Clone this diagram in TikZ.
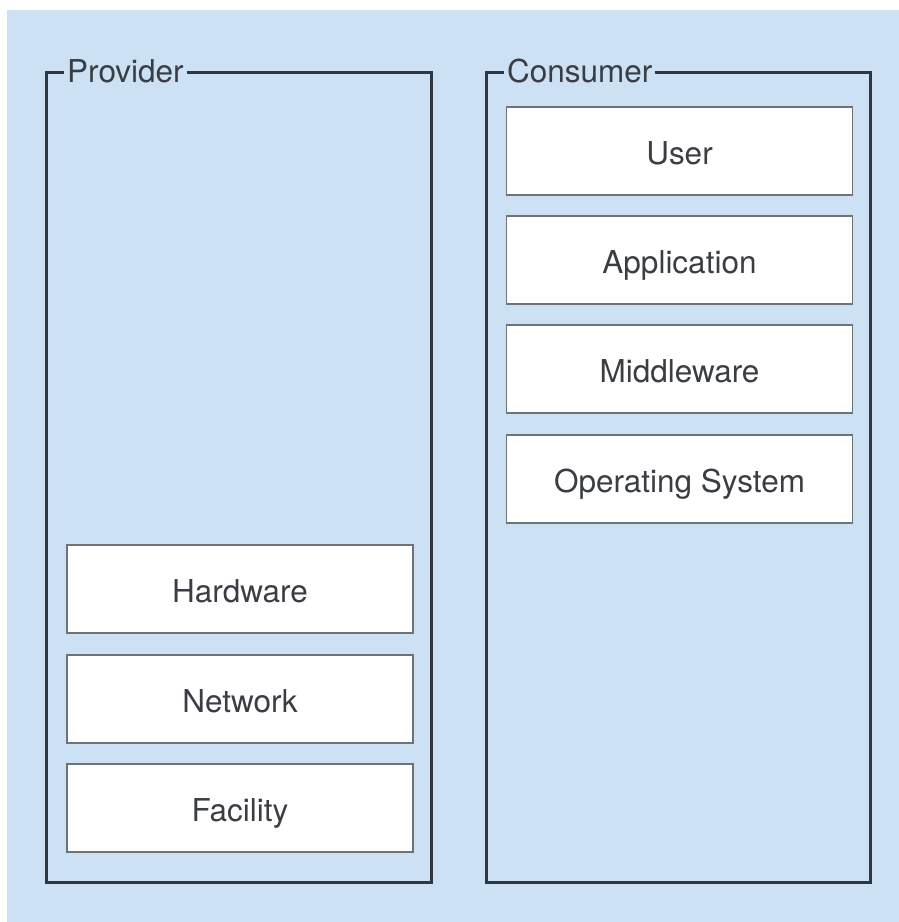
\documentclass[tikz,border=0pt]{standalone}
\usepackage{fontspec}
\setmainfont{TeX Gyre Heros}
\definecolor{bg}{RGB}{204,225,244}
\definecolor{framec}{RGB}{46,54,64}
\definecolor{boxc}{RGB}{110,115,120}
\definecolor{txt}{RGB}{58,62,68}
\begin{document}
\begin{tikzpicture}[x=1pt,y=-1pt,
  frame/.style={draw=framec, line width=3pt, inner sep=0pt, outer sep=0pt},
  layer/.style={draw=boxc, fill=white, line width=1.6pt, minimum width=346pt, minimum height=88pt,
    inner sep=0pt, font=\fontsize{31.5}{37}\selectfont, text=txt,
    text height=26.6pt, text depth=0pt},
  flabel/.style={fill=bg, anchor=west, inner xsep=3pt, inner ysep=3pt,
    font=\fontsize{31.5}{37}\selectfont, text=txt,
    text height=22.6pt, text depth=0pt}]
\useasboundingbox (0,0) rectangle (899,922);
\fill[white] (0,0) rectangle (899,922);
\fill[bg] (7,10) rectangle (899,922);
% frames
\node[frame, minimum width=385pt, minimum height=810pt] (prov) at (238.5,477) {};
\node[frame, minimum width=384pt, minimum height=810pt] (cons) at (678,477) {};
\node[flabel] (provlbl) at (64,71.5) {Provider};
\node[flabel] (conslbl) at (504,71.5) {Consumer};
% provider layers
\node[layer] (hw) at (240,589) {Hardware};
\node[layer] (net) at (240,699) {Network};
\node[layer] (fac) at (240,808) {Facility};
% consumer layers
\node[layer] (user) at (679.5,151) {User};
\node[layer] (app) at (679.5,260) {Application};
\node[layer] (mid) at (679.5,369) {Middleware};
\node[layer] (os) at (679.5,479) {Operating System};
\end{tikzpicture}
\end{document}
